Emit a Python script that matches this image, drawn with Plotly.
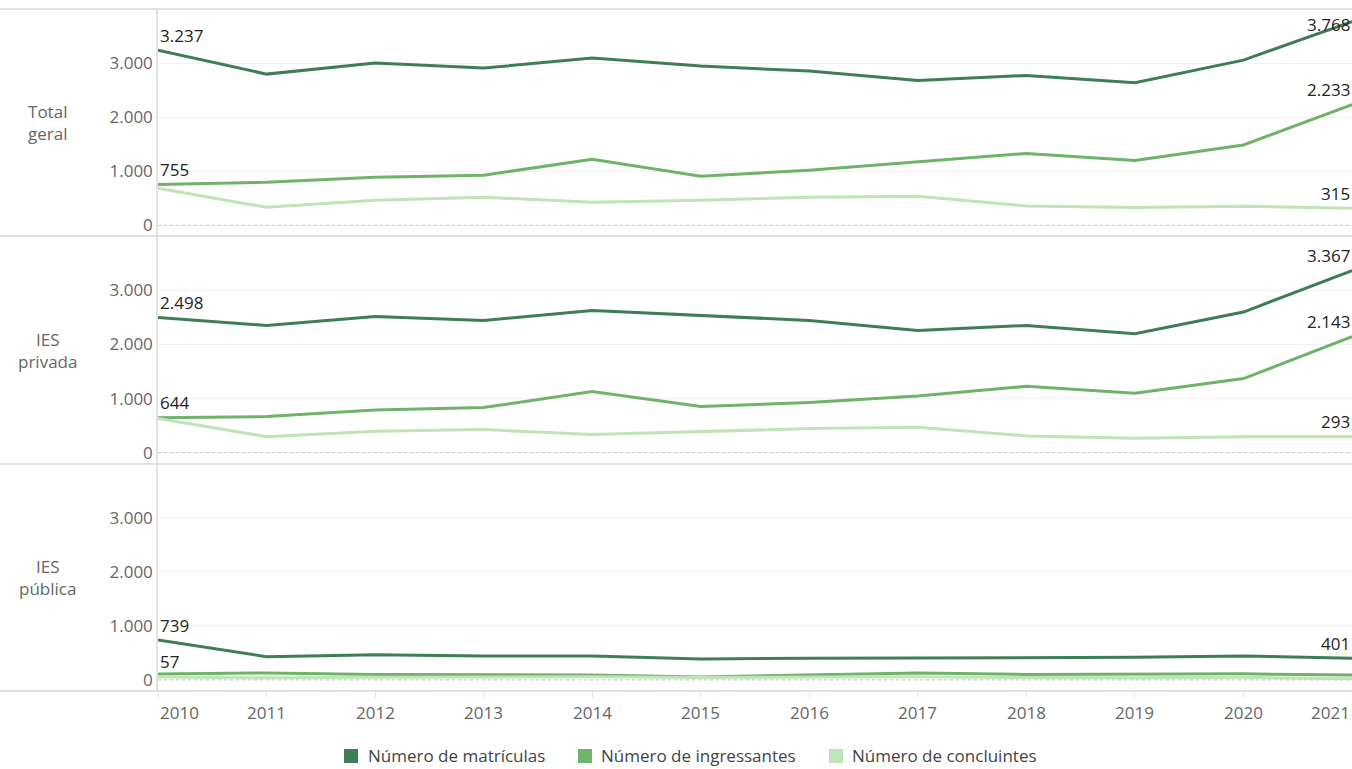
import plotly.graph_objects as go
from plotly.subplots import make_subplots

anos = [2010, 2011, 2012, 2013, 2014, 2015, 2016, 2017, 2018, 2019, 2020, 2021]
paineis = ["Total<br>geral", "IES<br>privada", "IES<br>pública"]
series = ["Número de matrículas", "Número de ingressantes", "Número de concluintes"]

total_matriculas = [3237, 2796, 3000, 2907, 3093, 2944, 2852, 2679, 2772, 2635, 3055, 3768]
total_ingressantes = [755, 796, 889, 926, 1222, 907, 1019, 1178, 1330, 1200, 1485, 2233]
total_concluintes = [687, 333, 463, 519, 426, 463, 519, 537, 358, 327, 352, 315]

priv_matriculas = [2498, 2352, 2519, 2444, 2630, 2537, 2444, 2259, 2352, 2198, 2599, 3367]
priv_ingressantes = [644, 667, 790, 833, 1130, 852, 926, 1049, 1228, 1099, 1370, 2143]
priv_concluintes = [630, 296, 395, 426, 333, 389, 444, 469, 309, 265, 296, 293]

pub_matriculas = [739, 430, 465, 445, 445, 390, 400, 405, 408, 420, 445, 401]
pub_ingressantes = [111, 129, 99, 93, 92, 55, 93, 130, 102, 102, 113, 90]
pub_concluintes = [57, 40, 50, 55, 60, 45, 50, 60, 45, 40, 50, 22]

dados = [
    [total_matriculas, total_ingressantes, total_concluintes],
    [priv_matriculas, priv_ingressantes, priv_concluintes],
    [pub_matriculas, pub_ingressantes, pub_concluintes],
]
# which labels are shown (first, last) per panel/series
rotulos = [
    [(True, True), (True, True), (False, True)],
    [(True, True), (True, True), (False, True)],
    [(True, True), (False, False), (True, False)],
]
# vertical offset (px) of end labels; the top one sits beside the line
deslocamento_fim = [[-3, 15, 15], [15, 15, 15], [15, 15, 15]]

yticks = [0, 1000, 2000, 3000]
cores = ["#3f7d57", "#6fb26a", "#bee5b6"]
FONT = "Open Sans"

# layout geometry (pixels)
W, H = 1352, 769
L, T, B = 158, 9, 78
PW, PH = W - L, H - T - B
legenda_quadrado_px = [344, 578, 829]
legenda_texto_px = [366, 599, 850]
legenda_y_px = 756


def px_x(px):
    return (px - L) / PW


def px_y(py):
    return (H - B - py) / PH


fig = make_subplots(rows=3, cols=1, shared_xaxes=True, vertical_spacing=0)


def fmt(v):
    return f"{v:,}".replace(",", ".")


for r in range(3):
    xref = "x" if r == 0 else f"x{r+1}"
    yref = "y" if r == 0 else f"y{r+1}"
    for s in range(3):
        vals = dados[r][s]
        first, last = rotulos[r][s]
        fig.add_trace(go.Scatter(
            x=anos, y=vals, mode="lines", name=series[s],
            line=dict(color=cores[s], width=3), showlegend=False,
            hoverinfo="skip"), row=r + 1, col=1)
        if first:
            fig.add_annotation(text=fmt(vals[0]), x=anos[0], y=vals[0], xref=xref, yref=yref,
                               xanchor="left", yanchor="middle", yshift=15, showarrow=False,
                               font=dict(family=FONT, size=17, color="#252423"))
        if last:
            fig.add_annotation(text=fmt(vals[-1]), x=anos[-1], y=vals[-1], xref=xref, yref=yref,
                               xanchor="right", yanchor="middle", yshift=deslocamento_fim[r][s],
                               showarrow=False,
                               font=dict(family=FONT, size=17, color="#252423"))

for r in range(3):
    fig.update_yaxes(range=[-204, 4000], tickvals=yticks, tickformat=",d",
                     showgrid=True, gridcolor="#f2f2f2", gridwidth=1,
                     zeroline=False, showline=True, linecolor="#e3e3e3", linewidth=1.5,
                     tickfont=dict(family=FONT, size=17, color="#666666"),
                     ticks="", fixedrange=True, row=r + 1, col=1)
    fig.update_xaxes(range=[2010, 2021], tickvals=anos, showticklabels=False,
                     showgrid=False, zeroline=False, showline=False,
                     ticks="outside" if r == 2 else "", ticklen=6, tickcolor="#e3e3e3",
                     row=r + 1, col=1)
    yref = "y" if r == 0 else f"y{r+1}"
    xref = "x" if r == 0 else f"x{r+1}"
    fig.add_shape(type="line", xref=f"{xref} domain", yref=yref, x0=0, x1=1, y0=0, y1=0,
                  line=dict(color="#c8c8c8", width=1, dash="dot"))
    fig.add_annotation(text=paineis[r], xref="paper", yref=f"{yref} domain",
                       x=px_x(47), y=0.5, xanchor="center", showarrow=False, align="center",
                       font=dict(family=FONT, size=17, color="#666666"))

# panel separators
for yy in [0, 227 / 682, 455 / 682, 1]:
    fig.add_shape(type="line", xref="paper", yref="paper", x0=px_x(0), x1=1,
                  y0=yy, y1=yy, line=dict(color="#d9d9d9", width=1.5))

# x tick labels
for i, a in enumerate(anos):
    anchor = "left" if i == 0 else ("right" if i == len(anos) - 1 else "center")
    fig.add_annotation(text=str(a), x=a, xref="x3", y=0, yref="paper", yshift=-21,
                       xanchor=anchor, yanchor="middle", showarrow=False,
                       font=dict(family=FONT, size=17, color="#666666"))

# legend (drawn manually so it can sit at the very bottom edge like the original)
for s in range(3):
    fig.add_shape(type="rect", xref="paper", yref="paper",
                  x0=px_x(legenda_quadrado_px[s]), x1=px_x(legenda_quadrado_px[s] + 14),
                  y0=px_y(legenda_y_px - 7), y1=px_y(legenda_y_px + 7),
                  line=dict(width=0), fillcolor=cores[s])
    fig.add_annotation(text=series[s], xref="paper", yref="paper",
                       x=px_x(legenda_texto_px[s]), y=px_y(legenda_y_px),
                       xanchor="left", yanchor="middle", showarrow=False,
                       font=dict(family=FONT, size=17, color="#444444"))

fig.update_layout(
    width=W, height=H, separators=",.",
    margin=dict(l=L, r=0, t=T, b=B, autoexpand=False),
    paper_bgcolor="white", plot_bgcolor="white", showlegend=False,
)

fig.write_html("out.html", config={"displayModeBar": False},
               post_script="document.body.style.margin='0';"
                           "document.documentElement.style.overflow='hidden';"
                           "document.body.style.overflow='hidden';")
